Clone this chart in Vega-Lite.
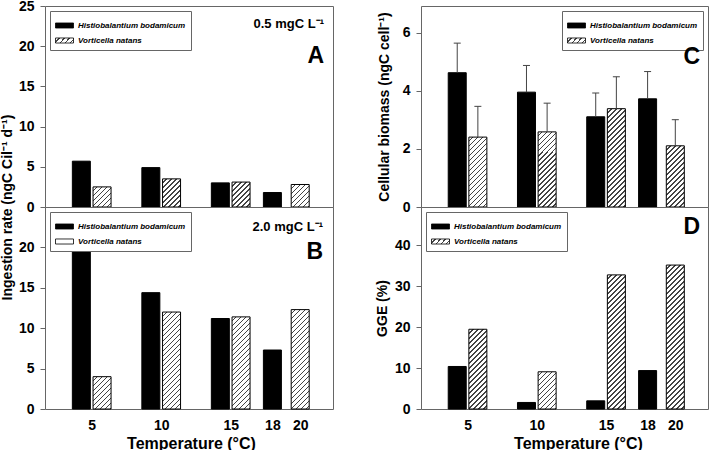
{
  "$schema": "https://vega.github.io/schema/vega-lite/v6.json",
  "background": "white",
  "padding": {"left": -1, "top": -2, "right": 0, "bottom": 0},
  "params": [
    {"name": "hs", "expr": "[{offset:0,color:'#fff'},{offset:0.0175,color:'#fff'},{offset:0.0175,color:'#444'},{offset:0.025,color:'#444'},{offset:0.025,color:'#fff'},{offset:0.0425,color:'#fff'},{offset:0.0425,color:'#444'},{offset:0.05,color:'#444'},{offset:0.05,color:'#fff'},{offset:0.0675,color:'#fff'},{offset:0.0675,color:'#444'},{offset:0.075,color:'#444'},{offset:0.075,color:'#fff'},{offset:0.0925,color:'#fff'},{offset:0.0925,color:'#444'},{offset:0.1,color:'#444'},{offset:0.1,color:'#fff'},{offset:0.1175,color:'#fff'},{offset:0.1175,color:'#444'},{offset:0.125,color:'#444'},{offset:0.125,color:'#fff'},{offset:0.1425,color:'#fff'},{offset:0.1425,color:'#444'},{offset:0.15,color:'#444'},{offset:0.15,color:'#fff'},{offset:0.1675,color:'#fff'},{offset:0.1675,color:'#444'},{offset:0.175,color:'#444'},{offset:0.175,color:'#fff'},{offset:0.1925,color:'#fff'},{offset:0.1925,color:'#444'},{offset:0.2,color:'#444'},{offset:0.2,color:'#fff'},{offset:0.2175,color:'#fff'},{offset:0.2175,color:'#444'},{offset:0.225,color:'#444'},{offset:0.225,color:'#fff'},{offset:0.2425,color:'#fff'},{offset:0.2425,color:'#444'},{offset:0.25,color:'#444'},{offset:0.25,color:'#fff'},{offset:0.2675,color:'#fff'},{offset:0.2675,color:'#444'},{offset:0.275,color:'#444'},{offset:0.275,color:'#fff'},{offset:0.2925,color:'#fff'},{offset:0.2925,color:'#444'},{offset:0.3,color:'#444'},{offset:0.3,color:'#fff'},{offset:0.3175,color:'#fff'},{offset:0.3175,color:'#444'},{offset:0.325,color:'#444'},{offset:0.325,color:'#fff'},{offset:0.3425,color:'#fff'},{offset:0.3425,color:'#444'},{offset:0.35,color:'#444'},{offset:0.35,color:'#fff'},{offset:0.3675,color:'#fff'},{offset:0.3675,color:'#444'},{offset:0.375,color:'#444'},{offset:0.375,color:'#fff'},{offset:0.3925,color:'#fff'},{offset:0.3925,color:'#444'},{offset:0.4,color:'#444'},{offset:0.4,color:'#fff'},{offset:0.4175,color:'#fff'},{offset:0.4175,color:'#444'},{offset:0.425,color:'#444'},{offset:0.425,color:'#fff'},{offset:0.4425,color:'#fff'},{offset:0.4425,color:'#444'},{offset:0.45,color:'#444'},{offset:0.45,color:'#fff'},{offset:0.4675,color:'#fff'},{offset:0.4675,color:'#444'},{offset:0.475,color:'#444'},{offset:0.475,color:'#fff'},{offset:0.4925,color:'#fff'},{offset:0.4925,color:'#444'},{offset:0.5,color:'#444'},{offset:0.5,color:'#fff'},{offset:0.5175,color:'#fff'},{offset:0.5175,color:'#444'},{offset:0.525,color:'#444'},{offset:0.525,color:'#fff'},{offset:0.5425,color:'#fff'},{offset:0.5425,color:'#444'},{offset:0.55,color:'#444'},{offset:0.55,color:'#fff'},{offset:0.5675,color:'#fff'},{offset:0.5675,color:'#444'},{offset:0.575,color:'#444'},{offset:0.575,color:'#fff'},{offset:0.5925,color:'#fff'},{offset:0.5925,color:'#444'},{offset:0.6,color:'#444'},{offset:0.6,color:'#fff'},{offset:0.6175,color:'#fff'},{offset:0.6175,color:'#444'},{offset:0.625,color:'#444'},{offset:0.625,color:'#fff'},{offset:0.6425,color:'#fff'},{offset:0.6425,color:'#444'},{offset:0.65,color:'#444'},{offset:0.65,color:'#fff'},{offset:0.6675,color:'#fff'},{offset:0.6675,color:'#444'},{offset:0.675,color:'#444'},{offset:0.675,color:'#fff'},{offset:0.6925,color:'#fff'},{offset:0.6925,color:'#444'},{offset:0.7,color:'#444'},{offset:0.7,color:'#fff'},{offset:0.7175,color:'#fff'},{offset:0.7175,color:'#444'},{offset:0.725,color:'#444'},{offset:0.725,color:'#fff'},{offset:0.7425,color:'#fff'},{offset:0.7425,color:'#444'},{offset:0.75,color:'#444'},{offset:0.75,color:'#fff'},{offset:0.7675,color:'#fff'},{offset:0.7675,color:'#444'},{offset:0.775,color:'#444'},{offset:0.775,color:'#fff'},{offset:0.7925,color:'#fff'},{offset:0.7925,color:'#444'},{offset:0.8,color:'#444'},{offset:0.8,color:'#fff'},{offset:0.8175,color:'#fff'},{offset:0.8175,color:'#444'},{offset:0.825,color:'#444'},{offset:0.825,color:'#fff'},{offset:0.8425,color:'#fff'},{offset:0.8425,color:'#444'},{offset:0.85,color:'#444'},{offset:0.85,color:'#fff'},{offset:0.8675,color:'#fff'},{offset:0.8675,color:'#444'},{offset:0.875,color:'#444'},{offset:0.875,color:'#fff'},{offset:0.8925,color:'#fff'},{offset:0.8925,color:'#444'},{offset:0.9,color:'#444'},{offset:0.9,color:'#fff'},{offset:0.9175,color:'#fff'},{offset:0.9175,color:'#444'},{offset:0.925,color:'#444'},{offset:0.925,color:'#fff'},{offset:0.9425,color:'#fff'},{offset:0.9425,color:'#444'},{offset:0.95,color:'#444'},{offset:0.95,color:'#fff'},{offset:0.9675,color:'#fff'},{offset:0.9675,color:'#444'},{offset:0.975,color:'#444'},{offset:0.975,color:'#fff'},{offset:0.9925,color:'#fff'},{offset:0.9925,color:'#444'},{offset:1,color:'#444'}]"}
  ],
  "datasets": {
    "ingest05": [
      {"temperature": 5, "species": "Histiobalantium bodamicum", "value": 5.7},
      {"temperature": 5, "species": "Vorticella natans", "value": 2.5},
      {"temperature": 10, "species": "Histiobalantium bodamicum", "value": 4.9},
      {"temperature": 10, "species": "Vorticella natans", "value": 3.5},
      {"temperature": 15, "species": "Histiobalantium bodamicum", "value": 3.0},
      {"temperature": 15, "species": "Vorticella natans", "value": 3.1},
      {"temperature": 18, "species": "Histiobalantium bodamicum", "value": 1.8},
      {"temperature": 20, "species": "Vorticella natans", "value": 2.8}
    ],
    "ingest20": [
      {"temperature": 5, "species": "Histiobalantium bodamicum", "value": 19.5},
      {"temperature": 5, "species": "Vorticella natans", "value": 4.0},
      {"temperature": 10, "species": "Histiobalantium bodamicum", "value": 14.4},
      {"temperature": 10, "species": "Vorticella natans", "value": 12.0},
      {"temperature": 15, "species": "Histiobalantium bodamicum", "value": 11.2},
      {"temperature": 15, "species": "Vorticella natans", "value": 11.4},
      {"temperature": 18, "species": "Histiobalantium bodamicum", "value": 7.3},
      {"temperature": 20, "species": "Vorticella natans", "value": 12.3}
    ],
    "biomass": [
      {"temperature": 5, "species": "Histiobalantium bodamicum", "value": 4.63, "upper": 5.65},
      {"temperature": 5, "species": "Vorticella natans", "value": 2.41, "upper": 3.47},
      {"temperature": 10, "species": "Histiobalantium bodamicum", "value": 3.96, "upper": 4.88},
      {"temperature": 10, "species": "Vorticella natans", "value": 2.59, "upper": 3.58},
      {"temperature": 15, "species": "Histiobalantium bodamicum", "value": 3.11, "upper": 3.93},
      {"temperature": 15, "species": "Vorticella natans", "value": 3.39, "upper": 4.49},
      {"temperature": 18, "species": "Histiobalantium bodamicum", "value": 3.73, "upper": 4.67},
      {"temperature": 20, "species": "Vorticella natans", "value": 2.11, "upper": 3.01}
    ],
    "gge": [
      {"temperature": 5, "species": "Histiobalantium bodamicum", "value": 10.4},
      {"temperature": 5, "species": "Vorticella natans", "value": 19.5},
      {"temperature": 10, "species": "Histiobalantium bodamicum", "value": 1.6},
      {"temperature": 10, "species": "Vorticella natans", "value": 9.1},
      {"temperature": 15, "species": "Histiobalantium bodamicum", "value": 2.0},
      {"temperature": 15, "species": "Vorticella natans", "value": 32.8},
      {"temperature": 18, "species": "Histiobalantium bodamicum", "value": 9.4},
      {"temperature": 20, "species": "Vorticella natans", "value": 35.2}
    ]
  },
  "columns": 2,
  "spacing": {"row": 0, "column": 88},
  "bounds": "flush",
  "resolve": {"scale": {"color": "independent", "x": "independent", "y": "independent"}, "legend": {"color": "independent"}},
  "concat": [
    {
      "width": 288, "height": 201,
      "title": {"text": "0.5 mgC L⁻¹", "subtitle": "A", "anchor": "end", "frame": "group", "orient": "top", "offset": -69, "dx": -9, "fontSize": 13, "fontWeight": "bold", "color": "black", "subtitleFontSize": 23, "subtitleFontWeight": "bold", "subtitleColor": "black", "subtitlePadding": 14.4},
      "layer": [
        {
          "data": {"name": "ingest05"},
          "transform": [
            {"joinaggregate": [{"op": "count", "as": "n"}], "groupby": ["temperature"]},
            {"calculate": "datum.temperature + (datum.n > 1 ? (datum.species == 'Histiobalantium bodamicum' ? -0.745 : 0.745) : 0)", "as": "pos"},
            {"filter": "datum.species == 'Histiobalantium bodamicum'"}
          ],
          "mark": {"type": "bar", "width": 18, "stroke": "black", "strokeWidth": 1},
          "encoding": {
            "x": {"field": "pos", "type": "quantitative", "scale": {"domain": [2, 22], "nice": false}, "axis": null},
            "y": {"field": "value", "type": "quantitative", "scale": {"domain": [0, 25], "nice": false}, "axis": {"values": [0, 5, 10, 15, 20, 25], "title": "Ingestion rate (ngC Cil⁻¹ d⁻¹)", "titleY": 201, "titlePadding": 4}},
            "color": {"field": "species", "type": "nominal", "scale": {"domain": ["Histiobalantium bodamicum", "Vorticella natans"], "range": ["black", {"expr": "{gradient:'linear',x1:0,y1:0,x2:10.32,y2:2.87,stops:hs}"}]}, "legend": {"title": null, "orient": "top-left", "symbolType": "M-1,-0.28H1V0.28H-1Z", "symbolSize": 324}}
          }
        },
        {
          "data": {"name": "ingest05"},
          "transform": [
            {"joinaggregate": [{"op": "count", "as": "n"}], "groupby": ["temperature"]},
            {"calculate": "datum.temperature + (datum.n > 1 ? (datum.species == 'Histiobalantium bodamicum' ? -0.745 : 0.745) : 0)", "as": "pos"},
            {"filter": "datum.species == 'Vorticella natans'"}
          ],
          "mark": {"type": "bar", "width": 18, "stroke": "black", "strokeWidth": 1, "fill": {"expr": "{gradient:'linear',x1:0,y1:0,x2:3600/(324+pow(datum.value*8.04,2)),y2:200*datum.value*8.04/(324+pow(datum.value*8.04,2)),stops:hs}"}},
          "encoding": {
            "x": {"field": "pos", "type": "quantitative", "scale": {"domain": [2, 22], "nice": false}, "axis": null},
            "y": {"field": "value", "type": "quantitative", "scale": {"domain": [0, 25], "nice": false}, "axis": {"values": [0, 5, 10, 15, 20, 25], "title": "Ingestion rate (ngC Cil⁻¹ d⁻¹)", "titleY": 201, "titlePadding": 4}}
          }
        }
      ]
    },
    {
      "width": 287, "height": 201,
      "title": {"text": "C", "anchor": "end", "frame": "group", "orient": "top", "offset": -63, "dx": -8, "fontSize": 23, "fontWeight": "bold", "color": "black"},
      "layer": [
        {
          "data": {"name": "biomass"},
          "transform": [
            {"joinaggregate": [{"op": "count", "as": "n"}], "groupby": ["temperature"]},
            {"calculate": "datum.temperature + (datum.n > 1 ? (datum.species == 'Histiobalantium bodamicum' ? -0.745 : 0.745) : 0)", "as": "pos"},
            {"filter": "datum.species == 'Histiobalantium bodamicum'"}
          ],
          "mark": {"type": "bar", "width": 18, "stroke": "black", "strokeWidth": 1},
          "encoding": {
            "x": {"field": "pos", "type": "quantitative", "scale": {"domain": [2, 22], "nice": false}, "axis": null},
            "y": {"field": "value", "type": "quantitative", "scale": {"domain": [0, 6.93], "nice": false}, "axis": {"values": [0, 2, 4, 6], "title": "Cellular biomass (ngC cell⁻¹)", "titlePadding": 11}},
            "color": {"field": "species", "type": "nominal", "scale": {"domain": ["Histiobalantium bodamicum", "Vorticella natans"], "range": ["black", {"expr": "{gradient:'linear',x1:0,y1:0,x2:10.32,y2:2.87,stops:hs}"}]}, "legend": {"title": null, "orient": "top-right", "symbolType": "M-1,-0.28H1V0.28H-1Z", "symbolSize": 324}}
          }
        },
        {
          "data": {"name": "biomass"},
          "transform": [
            {"joinaggregate": [{"op": "count", "as": "n"}], "groupby": ["temperature"]},
            {"calculate": "datum.temperature + (datum.n > 1 ? (datum.species == 'Histiobalantium bodamicum' ? -0.745 : 0.745) : 0)", "as": "pos"},
            {"filter": "datum.species == 'Vorticella natans'"}
          ],
          "mark": {"type": "bar", "width": 18, "stroke": "black", "strokeWidth": 1, "fill": {"expr": "{gradient:'linear',x1:0,y1:0,x2:3600/(324+pow(datum.value*29.0,2)),y2:200*datum.value*29.0/(324+pow(datum.value*29.0,2)),stops:hs}"}},
          "encoding": {
            "x": {"field": "pos", "type": "quantitative", "scale": {"domain": [2, 22], "nice": false}, "axis": null},
            "y": {"field": "value", "type": "quantitative", "scale": {"domain": [0, 6.93], "nice": false}, "axis": {"values": [0, 2, 4, 6], "title": "Cellular biomass (ngC cell⁻¹)", "titlePadding": 11}}
          }
        },
        {
          "data": {"name": "biomass"},
          "transform": [
            {"joinaggregate": [{"op": "count", "as": "n"}], "groupby": ["temperature"]},
            {"calculate": "datum.temperature + (datum.n > 1 ? (datum.species == 'Histiobalantium bodamicum' ? -0.745 : 0.745) : 0)", "as": "pos"}
          ],
          "mark": {"type": "rule", "color": "#444", "strokeWidth": 1},
          "encoding": {
            "x": {"field": "pos", "type": "quantitative", "scale": {"domain": [2, 22], "nice": false}, "axis": null},
            "y": {"field": "value", "type": "quantitative", "scale": {"domain": [0, 6.93], "nice": false}, "axis": {"values": [0, 2, 4, 6], "title": "Cellular biomass (ngC cell⁻¹)", "titlePadding": 11}},
            "y2": {"field": "upper"}
          }
        },
        {
          "data": {"name": "biomass"},
          "transform": [
            {"joinaggregate": [{"op": "count", "as": "n"}], "groupby": ["temperature"]},
            {"calculate": "datum.temperature + (datum.n > 1 ? (datum.species == 'Histiobalantium bodamicum' ? -0.745 : 0.745) : 0)", "as": "pos"}
          ],
          "mark": {"type": "point", "shape": "M-1,0H1", "size": 49, "filled": false, "stroke": "#444", "strokeWidth": 1, "opacity": 1},
          "encoding": {
            "x": {"field": "pos", "type": "quantitative", "scale": {"domain": [2, 22], "nice": false}, "axis": null},
            "y": {"field": "upper", "type": "quantitative", "scale": {"domain": [0, 6.93], "nice": false}, "axis": {"values": [0, 2, 4, 6], "title": "Cellular biomass (ngC cell⁻¹)", "titlePadding": 11}}
          }
        }
      ]
    },
    {
      "width": 288, "height": 202,
      "title": {"text": "2.0 mgC L⁻¹", "subtitle": "B", "anchor": "end", "frame": "group", "orient": "top", "offset": -56.5, "dx": -10, "fontSize": 13, "fontWeight": "bold", "color": "black", "subtitleFontSize": 23, "subtitleFontWeight": "bold", "subtitleColor": "black", "subtitlePadding": 6.8},
      "layer": [
        {
          "data": {"name": "ingest20"},
          "transform": [
            {"joinaggregate": [{"op": "count", "as": "n"}], "groupby": ["temperature"]},
            {"calculate": "datum.temperature + (datum.n > 1 ? (datum.species == 'Histiobalantium bodamicum' ? -0.745 : 0.745) : 0)", "as": "pos"},
            {"filter": "datum.species == 'Histiobalantium bodamicum'"}
          ],
          "mark": {"type": "bar", "width": 18, "stroke": "black", "strokeWidth": 1},
          "encoding": {
            "x": {"field": "pos", "type": "quantitative", "scale": {"domain": [2, 22], "nice": false}, "axis": {"values": [5, 10, 15, 18, 20], "title": "Temperature (°C)", "ticks": false, "labelPadding": 9, "titlePadding": 3, "titleFontSize": 16, "titleX": 146}},
            "y": {"field": "value", "type": "quantitative", "scale": {"domain": [0, 25], "nice": false}, "axis": {"values": [0, 5, 10, 15, 20], "title": null}},
            "color": {"field": "species", "type": "nominal", "scale": {"domain": ["Histiobalantium bodamicum", "Vorticella natans"], "range": ["black", "white"]}, "legend": {"title": null, "orient": "top-left", "symbolType": "M-1,-0.28H1V0.28H-1Z", "symbolSize": 324}}
          }
        },
        {
          "data": {"name": "ingest20"},
          "transform": [
            {"joinaggregate": [{"op": "count", "as": "n"}], "groupby": ["temperature"]},
            {"calculate": "datum.temperature + (datum.n > 1 ? (datum.species == 'Histiobalantium bodamicum' ? -0.745 : 0.745) : 0)", "as": "pos"},
            {"filter": "datum.species == 'Vorticella natans'"}
          ],
          "mark": {"type": "bar", "width": 18, "stroke": "black", "strokeWidth": 1, "fill": {"expr": "{gradient:'linear',x1:0,y1:0,x2:3600/(324+pow(datum.value*8.08,2)),y2:200*datum.value*8.08/(324+pow(datum.value*8.08,2)),stops:hs}"}},
          "encoding": {
            "x": {"field": "pos", "type": "quantitative", "scale": {"domain": [2, 22], "nice": false}, "axis": {"values": [5, 10, 15, 18, 20], "title": "Temperature (°C)", "ticks": false, "labelPadding": 9, "titlePadding": 3, "titleFontSize": 16, "titleX": 146}},
            "y": {"field": "value", "type": "quantitative", "scale": {"domain": [0, 25], "nice": false}, "axis": {"values": [0, 5, 10, 15, 20], "title": null}}
          }
        }
      ]
    },
    {
      "width": 287, "height": 202,
      "title": {"text": "D", "anchor": "end", "frame": "group", "orient": "top", "offset": -32, "dx": -8, "fontSize": 23, "fontWeight": "bold", "color": "black"},
      "layer": [
        {
          "data": {"name": "gge"},
          "transform": [
            {"joinaggregate": [{"op": "count", "as": "n"}], "groupby": ["temperature"]},
            {"calculate": "datum.temperature + (datum.n > 1 ? (datum.species == 'Histiobalantium bodamicum' ? -0.745 : 0.745) : 0)", "as": "pos"},
            {"filter": "datum.species == 'Histiobalantium bodamicum'"}
          ],
          "mark": {"type": "bar", "width": 18, "stroke": "black", "strokeWidth": 1},
          "encoding": {
            "x": {"field": "pos", "type": "quantitative", "scale": {"domain": [2, 22], "nice": false}, "axis": {"values": [5, 10, 15, 18, 20], "title": "Temperature (°C)", "ticks": false, "labelPadding": 9, "titlePadding": 3, "titleFontSize": 16, "titleX": 157}},
            "y": {"field": "value", "type": "quantitative", "scale": {"domain": [0, 49.4], "nice": false}, "axis": {"values": [0, 10, 20, 30, 40], "title": "GGE (%)"}},
            "color": {"field": "species", "type": "nominal", "scale": {"domain": ["Histiobalantium bodamicum", "Vorticella natans"], "range": ["black", {"expr": "{gradient:'linear',x1:0,y1:0,x2:10.32,y2:2.87,stops:hs}"}]}, "legend": {"title": null, "orient": "top-left", "symbolType": "M-1,-0.28H1V0.28H-1Z", "symbolSize": 324}}
          }
        },
        {
          "data": {"name": "gge"},
          "transform": [
            {"joinaggregate": [{"op": "count", "as": "n"}], "groupby": ["temperature"]},
            {"calculate": "datum.temperature + (datum.n > 1 ? (datum.species == 'Histiobalantium bodamicum' ? -0.745 : 0.745) : 0)", "as": "pos"},
            {"filter": "datum.species == 'Vorticella natans'"}
          ],
          "mark": {"type": "bar", "width": 18, "stroke": "black", "strokeWidth": 1, "fill": {"expr": "{gradient:'linear',x1:0,y1:0,x2:3600/(324+pow(datum.value*4.089,2)),y2:200*datum.value*4.089/(324+pow(datum.value*4.089,2)),stops:hs}"}},
          "encoding": {
            "x": {"field": "pos", "type": "quantitative", "scale": {"domain": [2, 22], "nice": false}, "axis": {"values": [5, 10, 15, 18, 20], "title": "Temperature (°C)", "ticks": false, "labelPadding": 9, "titlePadding": 3, "titleFontSize": 16, "titleX": 157}},
            "y": {"field": "value", "type": "quantitative", "scale": {"domain": [0, 49.4], "nice": false}, "axis": {"values": [0, 10, 20, 30, 40], "title": "GGE (%)"}}
          }
        }
      ]
    }
  ],
  "config": {
    "font": "Liberation Sans",
    "view": {"stroke": "#666", "strokeWidth": 1},
    "axis": {"domain": false, "grid": false, "labelFontSize": 14, "labelFontWeight": "bold", "labelColor": "black", "titleFontSize": 14, "titleFontWeight": "bold", "titleColor": "black", "tickColor": "#666", "labelFlush": false},
    "axisY": {"tickSize": 5, "labelPadding": 6, "titlePadding": 5},
    "legend": {"padding": 5, "strokeColor": "#666", "fillColor": "white", "labelFontSize": 8, "labelFontStyle": "italic", "labelFontWeight": "bold", "labelColor": "black", "symbolStrokeColor": "black", "symbolStrokeWidth": 0.8, "rowPadding": 1, "labelOffset": 4, "labelLimit": 300, "offset": 5}
  }
}
